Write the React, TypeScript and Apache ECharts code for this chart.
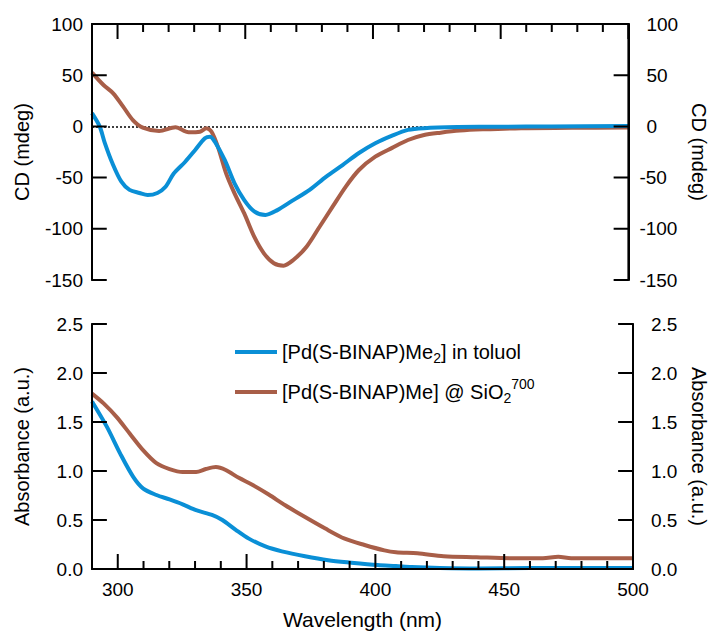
import React, { useEffect, useRef } from "react";
import * as echarts from "echarts";

// Wavelength grids and values
const wlCdToluol = [290, 293, 295, 298, 301.5, 304.7, 308.6, 311.8, 315.6, 318.8, 322, 326.5, 330.4, 334.2, 336.2, 338.1, 342, 345.8, 349.6, 353.5, 357.9, 362.4, 368.8, 375.2, 381.7, 388.1, 394.5, 400.9, 407.5, 413.7, 420, 433, 450, 470, 500];
const cdToluol = [13, 0, -16, -36, -54, -62, -65, -67, -65, -59, -46, -34.5, -23, -11.6, -10, -15, -33, -55.6, -72, -83, -86.5, -82, -72, -62, -49, -37.7, -26, -16.5, -9, -3.4, -1.7, -0.7, -0.3, 0, 0.3];

const wlCdSilica = [290, 294.5, 298.3, 302.2, 306, 309.9, 316.3, 322.7, 327.8, 332.3, 334.8, 336.8, 339.3, 342.5, 345.8, 349.6, 353.5, 357.3, 361.2, 365, 368.8, 374, 379.1, 384.2, 389.3, 394.5, 400.9, 407.5, 413.7, 420, 426.5, 434, 443, 458, 478, 500];
const cdSilica = [52.5, 40.4, 32.3, 19.3, 6.2, -1.2, -4.5, -0.9, -5.8, -5.2, -1.7, -5.2, -20, -45.8, -65.4, -85, -107.7, -124, -133.7, -136, -130.5, -117.5, -98, -78.4, -59, -42.6, -29.6, -21, -13.3, -8.4, -6.1, -4.1, -2.9, -1.7, -1.4, -1];

const wlAbsToluol = [290, 295.8, 300.9, 306, 309.9, 315, 320.1, 325.2, 330.4, 336.8, 340.6, 345.8, 350.9, 357.3, 363.7, 372.7, 381.7, 390.6, 400.9, 408, 414, 425, 440, 460, 480, 500];
const absToluol = [1.71, 1.45, 1.18, 0.94, 0.82, 0.755, 0.71, 0.66, 0.6, 0.55, 0.5, 0.4, 0.31, 0.23, 0.18, 0.13, 0.09, 0.065, 0.04, 0.03, 0.02, 0.01, 0.005, 0.01, 0.01, 0.01];

const wlAbsSilica = [290, 294.5, 299.6, 304.7, 309.9, 315, 320.1, 325.2, 330.4, 334.2, 338.1, 341.9, 347, 352.2, 358.6, 365, 372.7, 380.4, 388.1, 395.8, 403.5, 408, 416.3, 426.5, 439.3, 452.2, 465, 471, 476, 500];
const absSilica = [1.79, 1.69, 1.55, 1.38, 1.21, 1.08, 1.02, 0.99, 0.99, 1.02, 1.04, 1.01, 0.93, 0.86, 0.76, 0.65, 0.53, 0.415, 0.31, 0.245, 0.19, 0.17, 0.16, 0.13, 0.12, 0.11, 0.11, 0.125, 0.11, 0.11];

// Tick positions
const xMajorTicks = [300, 350, 400, 450, 500];
const xMinorTicks = [310, 320, 330, 340, 360, 370, 380, 390, 410, 420, 430, 440, 460, 470, 480, 490];
const cdTicks = [-150, -100, -50, 0, 50, 100];
const absTicks = [0, 0.5, 1, 1.5, 2, 2.5];
const seriesNames = ["toluol", "silica"];

const BLUE = "#0a8fd6";
const BROWN = "#a85e48";
const FONT = 'Arial, "Liberation Sans", sans-serif';

const zip = (xs: number[], ys: number[]) => xs.map((x, i) => [x, ys[i]]);

export default function App() {
  const ref = useRef<HTMLDivElement>(null);
  useEffect(() => {
    if (!ref.current) return;
    const chart = echarts.init(ref.current, undefined, { renderer: "svg" });
    const GW = 545;
    const GH = [256, 245];
    const X_MIN = 290, X_MAX = 500;
    const labelStyle = { color: "#000", fontSize: 19, fontFamily: FONT };
    const nameStyle = { color: "#000", fontSize: 20, fontFamily: FONT };
    const rightLabel = (dec: number) => ({
      ...labelStyle,
      margin: 11,
      formatter: (v: number) => {
        const s = dec ? v.toFixed(dec) : String(v);
        return v < 0 ? s : "{p|" + s + "}";
      },
      rich: { p: { padding: [0, 0, 0, 7], fontSize: 19, fontFamily: FONT, color: "#000" } },
    });

    const spineX = (grid: number, pos: string, labels: boolean) => ({
      type: "value",
      gridIndex: grid,
      position: pos,
      min: X_MIN,
      max: X_MAX,
      axisLine: { show: true, onZero: false, lineStyle: { color: "#000", width: 2 } },
      splitLine: { show: false },
      axisTick: { show: false },
      axisLabel: labels
        ? { show: true, ...labelStyle, margin: 11, customValues: xMajorTicks }
        : { show: false },
      name: labels ? "Wavelength (nm)" : "",
      nameLocation: "middle",
      nameGap: 40,
      nameTextStyle: { ...nameStyle, fontSize: 21 },
    });
    const spineY = (grid: number, pos: string, min: number, max: number, interval: number, name: string, dec: number) => ({
      type: "value",
      gridIndex: grid,
      position: pos,
      min,
      max,
      interval,
      axisLine: { show: true, onZero: false, lineStyle: { color: "#000", width: 2 } },
      splitLine: { show: false },
      axisTick: { show: false },
      axisLabel:
        pos === "left"
          ? { ...labelStyle, margin: 9, formatter: (v: number) => (dec ? v.toFixed(dec) : String(v)) }
          : rightLabel(dec),
      name,
      nameLocation: "middle",
      nameRotate: pos === "left" ? 90 : -90,
      nameGap: pos === "left" ? 60 : 56,
      nameTextStyle: nameStyle,
    });

    // Inward ticks drawn as a "comb" polyline running along a spine (through the axes' scales).
    const MAJ = 15, MIN = 8; // tick lengths in px
    const nmPerPx = (X_MAX - X_MIN) / GW;
    const xComb = (yVal: number, unitsPerPx: number, dir: number) => {
      const all = [
        ...xMajorTicks.map((t) => [t, MAJ]),
        ...xMinorTicks.map((t) => [t, MIN]),
      ].sort((a, b) => a[0] - b[0]);
      const pts: number[][] = [[X_MIN, yVal]];
      all.forEach(([t, len]) => {
        pts.push([t, yVal], [t, yVal + dir * len * unitsPerPx], [t, yVal]);
      });
      return pts;
    };
    const yComb = (ticks: number[], xVal: number, dir: number) => {
      const pts: number[][] = [];
      ticks.forEach((v) => {
        pts.push([xVal, v], [xVal + dir * MAJ * nmPerPx, v], [xVal, v]);
      });
      return pts;
    };
    const comb = (xi: number, yi: number, data: number[][]) => ({
      type: "line",
      xAxisIndex: xi,
      yAxisIndex: yi,
      data,
      smooth: false,
      symbol: "none",
      silent: true,
      clip: false,
      z: 10,
      lineStyle: { color: "#000", width: 2, join: "bevel", cap: "butt" },
      itemStyle: { color: "#000" },
      emphasis: { disabled: true },
    });
    const cdPerPx = 250 / GH[0];
    const absPerPx = 2.5 / GH[1];

    const line = (name: string, xi: number, yi: number, data: number[][], color: string, z: number, extra: any = {}) => ({
      name,
      type: "line",
      xAxisIndex: xi,
      yAxisIndex: yi,
      data,
      smooth: 0.3,
      symbol: "none",
      lineStyle: { color, width: 4 },
      itemStyle: { color },
      z,
      ...extra,
    });

    chart.setOption({
      animation: false,
      textStyle: { fontFamily: FONT },
      grid: [
        { left: 92, top: 24, width: GW, height: GH[0] },
        { left: 92, top: 324, width: GW, height: GH[1] },
      ],
      xAxis: [spineX(0, "top", false), spineX(1, "bottom", true)],
      yAxis: [
        spineY(0, "left", -150, 100, 50, "CD (mdeg)", 0),
        spineY(0, "right", -150, 100, 50, "CD (mdeg)", 0),
        spineY(1, "left", 0, 2.5, 0.5, "Absorbance (a.u.)", 1),
        spineY(1, "right", 0, 2.5, 0.5, "Absorbance (a.u.)", 1),
      ],
      legend: {
        data: seriesNames,
        orient: "vertical",
        left: 230,
        top: 337,
        icon: "rect",
        itemWidth: 42,
        itemHeight: 4,
        itemGap: 12,
        formatter: (n: string) =>
          n === "toluol"
            ? "[Pd(S-BINAP)Me{sub|2}] in toluol"
            : "[Pd(S-BINAP)Me] @ SiO{sub|2}{sup|700}",
        textStyle: {
          color: "#000",
          fontSize: 20,
          fontFamily: FONT,
          rich: {
            sub: { fontSize: 14, fontFamily: FONT, color: "#000", padding: [12, 0, 0, 0] },
            sup: { fontSize: 14, fontFamily: FONT, color: "#000", padding: [0, 0, 16, 0] },
          },
        },
      },
      series: [
        line("toluol", 0, 0, zip(wlCdToluol, cdToluol), BLUE, 3, {
          markLine: {
            silent: true,
            symbol: ["none", "none"],
            label: { show: false },
            lineStyle: { color: "#000", type: [2, 2], width: 1.5 },
            data: [{ yAxis: 0 }],
            z: 1,
          },
        }),
        line("silica", 0, 0, zip(wlCdSilica, cdSilica), BROWN, 2),
        line("toluol", 1, 2, zip(wlAbsToluol, absToluol), BLUE, 3),
        line("silica", 1, 2, zip(wlAbsSilica, absSilica), BROWN, 2),
        // tick combs
        comb(0, 0, xComb(100, cdPerPx, -1)),
        comb(0, 0, yComb(cdTicks, X_MIN, 1)),
        comb(0, 0, yComb(cdTicks, X_MAX, -1)),
        comb(1, 2, xComb(0, absPerPx, 1)),
        comb(1, 2, yComb(absTicks, X_MIN, 1)),
        comb(1, 2, yComb(absTicks, X_MAX, -1)),
      ],
    });
    return () => chart.dispose();
  }, []);
  return <div ref={ref} style={{ position: "fixed", left: 0, top: 0, width: 717, height: 635, background: "#fff" }} />;
}
